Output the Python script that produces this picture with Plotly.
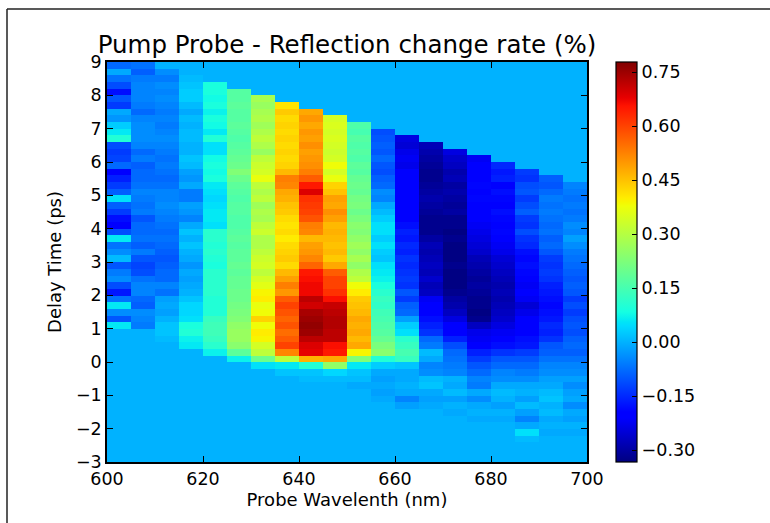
import numpy as np
import plotly.graph_objects as go

# ---------------- data ----------------
# Column edges of the probe wavelength (nm) and row edges of delay time (ps)
wavelength_edges = [600, 605, 610, 615, 620, 625, 630, 635, 640, 645, 650,
                    655, 660, 665, 670, 675, 680, 685, 690, 695, 700]
delay_edges = [round(-3.0 + 0.2 * i, 1) for i in range(62)]  # -3.0 ... 9.2

# Each wavelength column holds 41 measured delays (0.2 ps steps);
# the window starts at a chirp-shifted delay (ps) given here.
window_start = [1.0, 0.8, 0.6, 0.4, 0.2, 0.0, -0.2, -0.4, -0.6, -0.8,
                -1.0, -1.2, -1.4, -1.6, -1.8, -2.0, -2.2, -2.4, -2.6, -2.8]

# Reflection change rate (%) per column, listed from the latest delay downward
c600 = [-0.06, -0.08, -0.01, -0.07, -0.11, -0.18, -0.10, -0.13, -0.01, -0.03, 0.03,
        0.06, 0.10, -0.11, -0.13, -0.12, -0.08, -0.20, -0.16, -0.13, -0.09,
        0.05, -0.09, -0.13, -0.18, -0.21, -0.11, 0.06, -0.07, -0.04, 0.01,
        -0.10, -0.06, -0.04, -0.11, -0.17, -0.07, 0.06, -0.04, -0.10, 0.06]
c605 = [-0.07, -0.09, -0.06, -0.05, -0.05, -0.05, -0.06, -0.08, -0.05, -0.04,
        -0.04, -0.04, -0.05, -0.08, -0.06, -0.09, -0.08, -0.08, -0.07, -0.05,
        -0.06, -0.07, -0.06, -0.10, -0.08, -0.08, -0.07, -0.09, -0.06, -0.10,
        -0.12, -0.11, -0.07, -0.05, -0.05, -0.08, -0.09, -0.04, -0.05, -0.06, 0.00]
c610 = [-0.04, -0.06, -0.04, -0.05, -0.04, -0.05, -0.06, -0.05, -0.06, -0.05,
        -0.04, -0.05, -0.06, -0.07, -0.06, -0.07, -0.08, -0.07, -0.05, -0.05,
        -0.04, -0.05, -0.06, -0.07, -0.08, -0.07, -0.08, -0.09, -0.10, -0.09,
        -0.08, -0.08, -0.05, -0.07, -0.02, -0.01, -0.02, 0.00, 0.02, 0.02, 0.01]
c615 = [0.01, 0.02, 0.03, 0.03, 0.01, -0.01, 0.01, 0.00, 0.01, 0.01,
        0.00, 0.00, 0.02, 0.01, -0.02, -0.03, -0.01, -0.06, -0.06, -0.02,
        -0.03, -0.05, -0.01, 0.02, 0.00, 0.02, 0.00, -0.01, -0.03, -0.01,
        -0.02, -0.01, 0.00, 0.02, 0.04, 0.04, 0.05, 0.09, 0.10, 0.07, 0.06]
c620 = [0.09, 0.09, 0.08, 0.09, 0.07, 0.09, 0.08, 0.06, 0.10, 0.05,
        0.05, 0.08, 0.09, 0.08, 0.09, 0.06, 0.05, 0.04, 0.05, 0.06,
        0.06, 0.05, 0.11, 0.11, 0.10, 0.11, 0.10, 0.09, 0.11, 0.11,
        0.11, 0.11, 0.10, 0.10, 0.10, 0.13, 0.14, 0.14, 0.13, 0.11, 0.07]
c625 = [0.17, 0.17, 0.18, 0.17, 0.17, 0.18, 0.17, 0.16, 0.17, 0.18,
        0.19, 0.20, 0.23, 0.20, 0.18, 0.17, 0.16, 0.17, 0.17, 0.16,
        0.16, 0.17, 0.18, 0.17, 0.18, 0.18, 0.19, 0.18, 0.19, 0.19,
        0.20, 0.20, 0.21, 0.22, 0.23, 0.25, 0.26, 0.26, 0.24, 0.18, 0.07]
c630 = [0.28, 0.26, 0.28, 0.29, 0.27, 0.29, 0.31, 0.29, 0.26, 0.31,
        0.33, 0.34, 0.37, 0.31, 0.29, 0.31, 0.27, 0.29, 0.28, 0.31,
        0.33, 0.29, 0.29, 0.31, 0.33, 0.34, 0.31, 0.34, 0.36, 0.39,
        0.40, 0.37, 0.38, 0.43, 0.38, 0.40, 0.39, 0.34, 0.31, 0.20, 0.05]
c635 = [0.41, 0.44, 0.42, 0.43, 0.42, 0.43, 0.42, 0.43, 0.42, 0.43,
        0.46, 0.53, 0.52, 0.48, 0.47, 0.45, 0.44, 0.42, 0.41, 0.42,
        0.40, 0.42, 0.43, 0.44, 0.42, 0.46, 0.49, 0.53, 0.50, 0.57,
        0.60, 0.58, 0.56, 0.58, 0.55, 0.57, 0.60, 0.52, 0.31, 0.06, 0.02]
c640 = [0.48, 0.50, 0.48, 0.50, 0.49, 0.51, 0.49, 0.50, 0.51, 0.53,
        0.57, 0.65, 0.69, 0.62, 0.61, 0.60, 0.58, 0.53, 0.52, 0.46,
        0.49, 0.50, 0.52, 0.56, 0.65, 0.66, 0.67, 0.67, 0.72, 0.70,
        0.74, 0.75, 0.76, 0.75, 0.72, 0.69, 0.68, 0.47, 0.10, 0.02, 0.01]
c645 = [0.34, 0.35, 0.34, 0.35, 0.34, 0.33, 0.34, 0.38, 0.34, 0.37,
        0.43, 0.45, 0.49, 0.48, 0.51, 0.49, 0.46, 0.47, 0.46, 0.45,
        0.46, 0.44, 0.48, 0.57, 0.60, 0.60, 0.62, 0.66, 0.71, 0.72,
        0.73, 0.73, 0.72, 0.72, 0.66, 0.65, 0.48, 0.25, 0.04, 0.01, 0.00]
c650 = [0.16, 0.15, 0.17, 0.16, 0.17, 0.16, 0.18, 0.17, 0.19, 0.20,
        0.19, 0.21, 0.22, 0.20, 0.22, 0.24, 0.23, 0.25, 0.27, 0.25,
        0.28, 0.25, 0.29, 0.31, 0.38, 0.40, 0.44, 0.45, 0.46, 0.48,
        0.47, 0.48, 0.46, 0.48, 0.39, 0.23, 0.06, 0.02, 0.01, -0.01, 0.00]
c655 = [-0.11, -0.10, -0.09, -0.10, -0.08, -0.10, -0.11, -0.09, -0.08, -0.04,
        -0.05, -0.01, 0.01, 0.03, 0.05, 0.05, 0.03, 0.05, 0.03, 0.02,
        0.05, 0.06, 0.07, 0.09, 0.11, 0.13, 0.12, 0.14, 0.15, 0.16,
        0.17, 0.19, 0.22, 0.24, 0.10, 0.03, -0.01, -0.02, -0.01, -0.02, -0.01]
c660 = [-0.24, -0.25, -0.23, -0.22, -0.23, -0.21, -0.21, -0.20, -0.20, -0.21,
        -0.20, -0.20, -0.20, -0.18, -0.16, -0.17, -0.15, -0.16, -0.14, -0.15,
        -0.14, -0.13, -0.14, -0.10, -0.13, -0.09, -0.08, -0.02, 0.03, 0.05,
        0.11, 0.13, 0.15, 0.13, 0.02, -0.01, -0.01, 0.00, -0.01, -0.05, -0.02]
c665 = [-0.28, -0.29, -0.30, -0.31, -0.32, -0.32, -0.31, -0.30, -0.29, -0.30,
        -0.31, -0.32, -0.32, -0.32, -0.30, -0.28, -0.29, -0.28, -0.27, -0.28,
        -0.26, -0.28, -0.27, -0.22, -0.20, -0.21, -0.18, -0.16, -0.14, -0.08,
        -0.06, 0.01, -0.01, -0.05, -0.04, 0.01, 0.02, -0.01, -0.02, -0.01, 0.00]
c670 = [-0.24, -0.26, -0.27, -0.29, -0.28, -0.30, -0.29, -0.30, -0.31, -0.30,
        -0.32, -0.32, -0.33, -0.32, -0.33, -0.33, -0.33, -0.32, -0.33, -0.33,
        -0.33, -0.32, -0.30, -0.29, -0.27, -0.24, -0.21, -0.20, -0.16, -0.11,
        -0.08, -0.07, -0.06, -0.05, 0.00, -0.01, 0.01, -0.02, 0.00, -0.01, 0.00]
c675 = [-0.22, -0.21, -0.20, -0.21, -0.19, -0.20, -0.19, -0.20, -0.21, -0.20,
        -0.22, -0.23, -0.24, -0.25, -0.26, -0.28, -0.29, -0.30, -0.31, -0.30,
        -0.31, -0.32, -0.32, -0.33, -0.32, -0.27, -0.23, -0.22, -0.20, -0.16,
        -0.13, -0.10, -0.08, -0.05, -0.06, -0.01, -0.04, -0.01, 0.00, -0.01, 0.00]
c680 = [-0.15, -0.17, -0.16, -0.20, -0.18, -0.19, -0.21, -0.18, -0.19, -0.21,
        -0.19, -0.21, -0.22, -0.23, -0.25, -0.26, -0.27, -0.28, -0.29, -0.28,
        -0.29, -0.28, -0.27, -0.26, -0.24, -0.22, -0.20, -0.18, -0.14, -0.10,
        -0.08, -0.05, -0.04, -0.01, 0.01, 0.00, -0.02, 0.00, -0.01, 0.00, 0.00]
c685 = [-0.13, -0.14, -0.11, -0.10, -0.13, -0.11, -0.09, -0.13, -0.14, -0.11,
        -0.14, -0.15, -0.18, -0.19, -0.18, -0.19, -0.21, -0.22, -0.21, -0.22,
        -0.25, -0.23, -0.21, -0.20, -0.21, -0.18, -0.17, -0.13, -0.10, -0.08,
        -0.06, -0.04, -0.01, 0.00, -0.02, 0.01, -0.02, -0.05, -0.01, 0.05, 0.01]
c690 = [-0.09, -0.10, -0.08, -0.06, -0.07, -0.06, -0.07, -0.08, -0.07, -0.09,
        -0.08, -0.10, -0.13, -0.14, -0.13, -0.14, -0.16, -0.17, -0.18, -0.19,
        -0.18, -0.17, -0.15, -0.16, -0.14, -0.10, -0.09, -0.07, -0.05, -0.04,
        -0.02, -0.01, 0.01, 0.02, 0.00, 0.01, -0.01, 0.00, -0.01, 0.00, 0.00]
c695 = [-0.05, -0.06, -0.07, -0.06, -0.07, -0.06, -0.04, -0.05, -0.02, -0.04,
        -0.06, -0.07, -0.08, -0.09, -0.10, -0.09, -0.10, -0.13, -0.11, -0.13,
        -0.11, -0.10, -0.11, -0.09, -0.08, -0.09, -0.07, -0.05, -0.04, -0.02,
        -0.04, -0.02, -0.01, -0.04, -0.01, -0.02, 0.00, -0.01, 0.00, 0.00, 0.00]

columns = [c600, c605, c610, c615, c620, c625, c630, c635, c640, c645,
           c650, c655, c660, c665, c670, c675, c680, c685, c690, c695]

x_ticks = [600, 620, 640, 660, 680, 700]
y_ticks = [-3, -2, -1, 0, 1, 2, 3, 4, 5, 6, 7, 8, 9]
cbar_ticks = [-0.30, -0.15, 0.00, 0.15, 0.30, 0.45, 0.60, 0.75]
z_min, z_max = -0.333, 0.778

# ---------------- grid assembly ----------------
n_rows = len(delay_edges) - 1
z = np.zeros((n_rows, len(columns)))
for k, col in enumerate(columns):
    vals = col[::-1]  # ascending delay
    r0 = int(round((window_start[k] - delay_edges[0]) / 0.2))
    r1 = min(r0 + len(vals), n_rows)
    z[r0:r1, k] = vals[: r1 - r0]

# matplotlib "jet" colormap
def jet_scale():
    r = ([0, 0.35, 0.66, 0.89, 1], [0, 0, 1, 1, 0.5])
    g = ([0, 0.125, 0.375, 0.64, 0.91, 1], [0, 0, 1, 1, 0, 0])
    b = ([0, 0.11, 0.34, 0.65, 1], [0.5, 1, 1, 0, 0])
    stops = sorted(set(r[0] + g[0] + b[0]))
    scale = []
    for s in stops:
        rr = np.interp(s, *r); gg = np.interp(s, *g); bb = np.interp(s, *b)
        scale.append([s, "rgb(%d,%d,%d)" % (round(rr * 255), round(gg * 255), round(bb * 255))])
    return scale

def fmt_minus(v, pattern):
    s = pattern % abs(v)
    return ("\u2212" + s) if v < 0 else s

FONT = "DejaVu Sans"
TICK_SIZE = 17.5
LABEL_SIZE = 18

fig = go.Figure(
    go.Heatmap(
        x=wavelength_edges,
        y=delay_edges,
        z=z,
        zmin=z_min,
        zmax=z_max,
        colorscale=jet_scale(),
        zsmooth=False,
        colorbar=dict(
            x=(616 - 107) / 480, xanchor="left", xref="paper",
            y=0.5, yanchor="middle", len=1, lenmode="fraction",
            thickness=21, thicknessmode="pixels",
            outlinewidth=1.2, outlinecolor="black",
            ticks="inside", ticklen=5, tickwidth=1, tickcolor="black",
            tickvals=cbar_ticks,
            ticktext=[fmt_minus(v, "%.2f") for v in cbar_ticks],
            tickfont=dict(family=FONT, size=TICK_SIZE, color="black"),
            ypad=0, xpad=0,
        ),
    )
)

axis_common = dict(
    showgrid=False, zeroline=False, showline=True, linecolor="black",
    linewidth=1.5, mirror="ticks", ticks="inside", ticklen=6, tickwidth=1,
    tickcolor="black", tickfont=dict(family=FONT, size=TICK_SIZE, color="black"),
)

fig.update_layout(
    width=770, height=523,
    margin=dict(l=107, r=183, t=62, b=61),
    paper_bgcolor="white", plot_bgcolor="white",
    title=dict(
        text="Pump Probe - Reflection change rate (%)",
        font=dict(family=FONT, size=24.5, color="black"),
        x=0.5, xref="paper", xanchor="center",
        y=1 - 44 / 523, yref="container", yanchor="middle",
    ),
    xaxis=dict(
        range=[600, 700], tickvals=x_ticks,
        ticktext=[str(v) for v in x_ticks],
        title=dict(text="Probe Wavelenth (nm)", standoff=6,
                   font=dict(family=FONT, size=LABEL_SIZE, color="black")),
        **axis_common,
    ),
    yaxis=dict(
        range=[-3, 9], tickvals=y_ticks,
        ticktext=[fmt_minus(v, "%d") for v in y_ticks],
        title=dict(text="Delay Time (ps)", standoff=10,
                   font=dict(family=FONT, size=LABEL_SIZE, color="black")),
        **axis_common,
    ),
    shapes=[
        dict(type="line", xref="paper", yref="paper",
             x0=(7 - 107) / 480, x1=(770 - 107) / 480,
             y0=(462 - 9) / 400, y1=(462 - 9) / 400,
             line=dict(color="#222222", width=1.5)),
        dict(type="line", xref="paper", yref="paper",
             x0=(7 - 107) / 480, x1=(7 - 107) / 480,
             y0=(462 - 9) / 400, y1=(462 - 523) / 400,
             line=dict(color="#222222", width=1.5)),
    ],
)

fig.write_html("out.html")
